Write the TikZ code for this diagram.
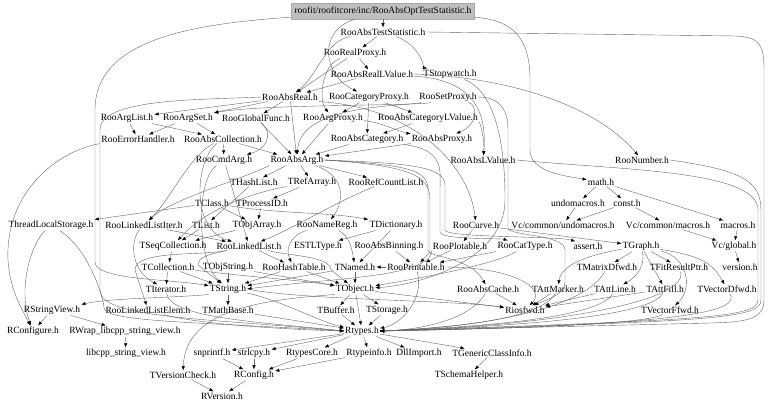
\documentclass[tikz,border=0pt]{standalone}
\usepackage{fontspec}
\setmainfont{Liberation Serif}
\usetikzlibrary{arrows.meta}
\definecolor{edgegray}{HTML}{666666}
\definecolor{rootgray}{HTML}{BFBFBF}
\definecolor{rootline}{HTML}{A8A8A8}

\begin{document}
\begin{tikzpicture}[x=1pt,y=-1pt,font=\fontsize{9.5}{11}\selectfont,>={Latex[length=4.2pt,width=3.3pt,color=black]},
file/.style={inner sep=1pt},
rootfile/.style={fill=rootgray,draw=rootline,inner xsep=3pt,inner ysep=1pt,minimum height=16pt},
edge/.style={->,draw=edgegray,line width=.4pt}]
 \useasboundingbox (0,0) rectangle (768,407);
 \node[rootfile] (optteststat) at (383,11) {roofit/roofitcore/inc/RooAbsOptTestStatistic.h};
 \node[file] (absteststat) at (383,32) {RooAbsTestStatistic.h};
 \node[file] (realproxy) at (355,53) {RooRealProxy.h};
 \node[file] (absreallv) at (372,74) {RooAbsRealLValue.h};
 \node[file] (stopwatch) at (450,74) {TStopwatch.h};
 \node[file] (absreal) at (290,97) {RooAbsReal.h};
 \node[file] (catproxy) at (369,97) {RooCategoryProxy.h};
 \node[file] (setproxy) at (448,97) {RooSetProxy.h};
 \node[file] (arglist) at (127,118) {RooArgList.h};
 \node[file] (argset) at (188,118) {RooArgSet.h};
 \node[file] (globalfunc) at (256,118) {RooGlobalFunc.h};
 \node[file] (argproxy) at (333,118) {RooArgProxy.h};
 \node[file] (abscatlv) at (428,118) {RooAbsCategoryLValue.h};
 \node[file] (errhandler) at (138,139) {RooErrorHandler.h};
 \node[file] (abscoll) at (223,139) {RooAbsCollection.h};
 \node[file] (abscat) at (367,139) {RooAbsCategory.h};
 \node[file] (absproxy) at (442,139) {RooAbsProxy.h};
 \node[file] (cmdarg) at (224,160) {RooCmdArg.h};
 \node[file] (absarg) at (297,160) {RooAbsArg.h};
 \node[file] (abslv) at (483,160) {RooAbsLValue.h};
 \node[file] (number) at (642,160) {RooNumber.h};
 \node[file] (hashlist) at (254,182) {THashList.h};
 \node[file] (refarray) at (312,182) {TRefArray.h};
 \node[file] (refcount) at (386,182) {RooRefCountList.h};
 \node[file] (mathh) at (601,182) {math.h};
 \node[file] (tclass) at (212,203) {TClass.h};
 \node[file] (processid) at (262,203) {TProcessID.h};
 \node[file] (undomacros) at (578,203) {undomacros.h};
 \node[file] (consth) at (627,203) {const.h};
 \node[file] (threadls) at (51,225) {ThreadLocalStorage.h};
 \node[file] (llistiter) at (144,225) {RooLinkedListIter.h};
 \node[file] (tlist) at (206,225) {TList.h};
 \node[file] (objarray) at (257,225) {TObjArray.h};
 \node[file] (namereg) at (327,225) {RooNameReg.h};
 \node[file] (dictionary) at (396,225) {TDictionary.h};
 \node[file] (curve) at (476,225) {RooCurve.h};
 \node[file] (vcundo) at (563,225) {Vc/common/undomacros.h};
 \node[file] (vcmacros) at (668,225) {Vc/common/macros.h};
 \node[file] (macrosh) at (738,225) {macros.h};
 \node[file] (seqcoll) at (173,246) {TSeqCollection.h};
 \node[file] (llist) at (249,246) {RooLinkedList.h};
 \node[file] (estl) at (318,246) {ESTLType.h};
 \node[file] (absbinning) at (389,246) {RooAbsBinning.h};
 \node[file] (plotable) at (460,246) {RooPlotable.h};
 \node[file] (cattype) at (525,246) {RooCatType.h};
 \node[file] (asserth) at (588,246) {assert.h};
 \node[file] (graph) at (641,246) {TGraph.h};
 \node[file] (vcglobal) at (734,246) {Vc/global.h};
 \node[file] (collection) at (168,267) {TCollection.h};
 \node[file] (objstring) at (228,267) {TObjString.h};
 \node[file] (hashtable) at (294,267) {RooHashTable.h};
 \node[file] (named) at (355,267) {TNamed.h};
 \node[file] (printable) at (416,267) {RooPrintable.h};
 \node[file] (matrixd) at (607,267) {TMatrixDfwd.h};
 \node[file] (fitresult) at (679,267) {TFitResultPtr.h};
 \node[file] (version) at (740,267) {version.h};
 \node[file] (iterator) at (166,289) {TIterator.h};
 \node[file] (tstring) at (228,289) {TString.h};
 \node[file] (tobject) at (355,289) {TObject.h};
 \node[file] (abscache) at (488,289) {RooAbsCache.h};
 \node[file] (attmarker) at (558,289) {TAttMarker.h};
 \node[file] (attline) at (615,289) {TAttLine.h};
 \node[file] (attfill) at (665,289) {TAttFill.h};
 \node[file] (vectord) at (727,289) {TVectorDfwd.h};
 \node[file] (stringview) at (52,310) {RStringView.h};
 \node[file] (llistelem) at (148,310) {RooLinkedListElem.h};
 \node[file] (mathbase) at (228,310) {TMathBase.h};
 \node[file] (buffer) at (336,310) {TBuffer.h};
 \node[file] (storage) at (387,310) {TStorage.h};
 \node[file] (riosfwd) at (525,310) {Riosfwd.h};
 \node[file] (vectorf) at (670,310) {TVectorFfwd.h};
 \node[file] (rconfigure) at (33,331) {RConfigure.h};
 \node[file] (wrapsv) at (125,331) {RWrap\_libcpp\_string\_view.h};
 \node[file] (rtypes) at (362,331) {Rtypes.h};
 \node[file] (libcppsv) at (126,353) {libcpp\_string\_view.h};
 \node[file] (snprintf) at (212,353) {snprintf.h};
 \node[file] (strlcpy) at (254,353) {strlcpy.h};
 \node[file] (rtypescore) at (312,353) {RtypesCore.h};
 \node[file] (rtypeinfo) at (369,353) {Rtypeinfo.h};
 \node[file] (dllimport) at (419,353) {DllImport.h};
 \node[file] (genclassinfo) at (492,353) {TGenericClassInfo.h};
 \node[file] (versioncheck) at (183,375) {TVersionCheck.h};
 \node[file] (rconfig) at (254,375) {RConfig.h};
 \node[file] (schemahelper) at (469,375) {TSchemaHelper.h};
 \node[file] (rversion) at (222,396) {RVersion.h};
 \draw[edge] (optteststat) -- (absteststat);
 \draw[edge] (optteststat) .. controls (318,30) and (322,75) .. (catproxy);
 \draw[edge] (optteststat) .. controls (190,24) and (95,40) .. (95,110) -- (95,262) .. controls (95,280) and (170,279) .. (tstring);
 \draw[edge] (optteststat) .. controls (515,20) and (530,40) .. (530,80) -- (530,150) .. controls (530,172) and (565,176) .. (mathh);
 \draw[edge] (absteststat) -- (realproxy);
 \draw[edge] (absteststat) .. controls (420,45) and (425,68) .. (stopwatch);
 \draw[edge] (absteststat) .. controls (326,40) and (318,75) .. (absreal);
 \draw[edge] (absteststat.east) -- (735,36) .. controls (760,37) and (764,45) .. (764,70) -- (764,300) .. controls (764,320) and (745,322) .. (710,323) -- (rtypes.east);
 \draw[edge] (realproxy) -- (absreallv);
 \draw[edge] (realproxy) -- (absreal);
 \draw[edge] (realproxy) .. controls (322,65) and (318,100) .. (argproxy);
 \draw[edge] (absreallv) -- (absreal);
 \draw[edge] (absreallv.east) .. controls (520,78) and (600,110) .. (number);
 \draw[edge] (absreallv) .. controls (484,80) and (486,125) .. (abslv);
 \draw[edge] (stopwatch) .. controls (505,95) and (505,180) .. (505,200) .. controls (505,260) and (420,285) .. (tobject);
 \draw[edge] (absreal) -- (arglist);
 \draw[edge] (absreal) -- (argset);
 \draw[edge] (absreal) -- (globalfunc);
 \draw[edge] (absreal) -- (absarg);
 \draw[edge] (absreal.south east) .. controls (420,108) and (470,170) .. (curve);
 \draw[edge] (absreal.west) .. controls (200,100) and (100,98) .. (100,130) -- (100,290) .. controls (100,318) and (200,318) .. (rtypes.west);
 \draw[edge] (catproxy) -- (argproxy);
 \draw[edge] (catproxy) -- (abscatlv);
 \draw[edge] (catproxy) -- (abscat);
 \draw[edge] (setproxy) .. controls (478,105) and (478,125) .. (absproxy);
 \draw[edge] (setproxy) .. controls (420,106) and (260,104) .. (argset);
 \draw[edge] (setproxy) .. controls (400,107) and (300,104) .. (absarg);
 \draw[edge] (setproxy.east) .. controls (500,97) and (508,110) .. (508,130) -- (508,228) .. controls (508,236) and (565,234) .. (565,250) -- (565,282) .. controls (565,295) and (545,300) .. (riosfwd);
 \draw[edge] (arglist) -- (abscoll);
 \draw[edge] (arglist) -- (errhandler);
 \draw[edge] (argset) -- (abscoll);
 \draw[edge] (argset) -- (errhandler);
 \draw[edge] (globalfunc) .. controls (275,135) and (265,150) .. (cmdarg);
 \draw[edge] (globalfunc) -- (absarg);
 \draw[edge] (argproxy) .. controls (380,122) and (400,132) .. (absproxy);
 \draw[edge] (argproxy) -- (absarg);
 \draw[edge] (abscatlv) -- (abscat);
 \draw[edge] (abscatlv) .. controls (480,122) and (485,140) .. (abslv);
 \draw[edge] (errhandler.south west) .. controls (60,150) and (5,190) .. (8,260) .. controls (10,290) and (20,305) .. (rconfigure);
 \draw[edge] (abscoll) -- (cmdarg);
 \draw[edge] (abscoll) -- (absarg);
 \draw[edge] (abscoll) .. controls (190,155) and (170,200) .. (llistiter);
 \draw[edge] (abscoll) .. controls (195,160) and (190,230) .. (llist);
 \draw[edge] (abscat) -- (absarg);
 \draw[edge] (abscat.south east) .. controls (445,150) and (440,170) .. (440,190) -- (440,232) .. controls (440,240) and (500,238) .. (cattype);
 \draw[edge] (absproxy) -- (absarg);
 \draw[edge] (cmdarg) .. controls (196,180) and (196,260) .. (tstring);
 \draw[edge] (cmdarg) -- (llist);
 \draw[edge] (absarg) -- (hashlist);
 \draw[edge] (absarg) -- (refarray);
 \draw[edge] (absarg) -- (refcount);
 \draw[edge] (absarg) .. controls (345,175) and (345,200) .. (namereg);
 \draw[edge] (absarg.east) .. controls (400,163) and (445,165) .. (445,185) -- (445,230) .. controls (445,238) and (560,236) .. (asserth);
 \draw[edge] (absarg.east) .. controls (410,165) and (428,170) .. (428,190) -- (428,250) .. controls (428,258) and (470,256) .. (abscache);
 \draw[edge] (absarg.east) .. controls (410,166) and (430,175) .. (430,200) -- (430,252) -- (printable);
 \draw[edge] (absarg.south west) .. controls (240,180) and (170,200) .. (llistiter);
 \draw[edge] (abslv.east) .. controls (620,170) and (758,170) .. (758,210) -- (758,300) .. controls (758,318) and (700,320) .. (rtypes.east);
 \draw[edge] (number.east) .. controls (740,170) and (761,180) .. (761,210) -- (761,300) .. controls (761,320) and (700,321) .. (rtypes.east);
 \draw[edge] (hashlist) -- (tlist);
 \draw[edge] (refarray) .. controls (240,195) and (200,215) .. (seqcoll);
 \draw[edge] (refarray) -- (processid);
 \draw[edge] (refcount) .. controls (340,200) and (290,230) .. (llist);
 \draw[edge] (mathh) -- (undomacros);
 \draw[edge] (mathh) -- (consth);
 \draw[edge] (mathh) -- (macrosh);
 \draw[edge] (tclass) .. controls (280,214) and (330,212) .. (dictionary);
 \draw[edge] (tclass) -- (objarray);
 \draw[edge] (tclass) -- (threadls.north east);
 \draw[edge] (processid) -- (objarray);
 \draw[edge] (undomacros) -- (vcundo);
 \draw[edge] (consth) -- (vcundo);
 \draw[edge] (consth) -- (vcmacros);
 \draw[edge] (threadls) .. controls (30,245) and (18,290) .. (rconfigure);
 \draw[edge] (threadls) .. controls (90,250) and (104,300) .. (104,308) .. controls (104,322) and (200,322) .. (rtypes.west);
 \draw[edge] (llistiter) .. controls (130,240) and (130,270) .. (iterator);
 \draw[edge] (llistiter) -- (llist);
 \draw[edge] (tlist) -- (seqcoll);
 \draw[edge] (objarray) -- (seqcoll);
 \draw[edge] (namereg) .. controls (350,236) and (352,250) .. (named);
 \draw[edge] (namereg) .. controls (290,235) and (285,250) .. (hashtable);
 \draw[edge] (dictionary) -- (named);
 \draw[edge] (dictionary) -- (estl);
 \draw[edge] (curve) -- (graph);
 \draw[edge] (curve) -- (plotable);
 \draw[edge] (vcmacros) -- (vcglobal);
 \draw[edge] (macrosh) -- (vcglobal);
 \draw[edge] (seqcoll) -- (collection);
 \draw[edge] (llist) .. controls (290,256) and (330,256) .. (331,270) -- (tobject);
 \draw[edge] (llist) .. controls (200,256) and (135,250) .. (135,270) -- (llistelem);
 \draw[edge] (llist) .. controls (205,255) and (198,258) .. (198,265) -- (tstring);
 \draw[edge] (llist) -- (hashtable);
 \draw[edge] (absbinning) -- (printable);
 \draw[edge] (plotable) -- (printable);
 \draw[edge] (plotable.south west) .. controls (430,278) and (330,278) .. (tstring.east);
 \draw[edge] (cattype) .. controls (500,262) and (440,275) .. (tobject);
 \draw[edge] (cattype) -- (printable);
 \draw[edge] (graph) -- (matrixd);
 \draw[edge] (graph) -- (fitresult);
 \draw[edge] (graph) .. controls (570,258) and (560,272) .. (attmarker);
 \draw[edge] (graph) .. controls (645,262) and (640,275) .. (attline);
 \draw[edge] (graph) -- (attfill);
 \draw[edge] (graph) .. controls (700,256) and (712,262) .. (vectord);
 \draw[edge] (graph) .. controls (690,258) and (692,290) .. (vectorf);
 \draw[edge] (vcglobal) -- (version);
 \draw[edge] (collection) .. controls (260,278) and (300,280) .. (tobject);
 \draw[edge] (collection) -- (iterator);
 \draw[edge] (collection) -- (tstring);
 \draw[edge] (objstring) -- (tobject);
 \draw[edge] (objstring) -- (tstring);
 \draw[edge] (hashtable) -- (tobject);
 \draw[edge] (hashtable) -- (tstring);
 \draw[edge] (named) -- (tobject);
 \draw[edge] (named) -- (tstring);
 \draw[edge] (printable) -- (named);
 \draw[edge] (printable.east) .. controls (520,268) and (545,290) .. (riosfwd);
 \draw[edge] (printable) .. controls (425,300) and (400,325) .. (rtypes);
 \draw[edge] (matrixd) .. controls (590,300) and (520,325) .. (rtypes.east);
 \draw[edge] (fitresult) .. controls (690,300) and (560,326) .. (rtypes.east);
 \draw[edge] (iterator) .. controls (170,318) and (260,322) .. (rtypes.west);
 \draw[edge] (tstring) -- (mathbase);
 \draw[edge] (tstring.south west) .. controls (170,298) and (110,298) .. (stringview.north east);
 \draw[edge] (tstring.east) .. controls (300,300) and (450,300) .. (riosfwd);
 \draw[edge] (tstring) .. controls (280,300) and (320,322) .. (rtypes);
 \draw[edge] (tobject) -- (buffer);
 \draw[edge] (tobject) -- (storage);
 \draw[edge] (tobject) -- (rtypes);
 \draw[edge] (tobject) -- (riosfwd);
 \draw[edge] (tobject.south west) .. controls (260,300) and (185,310) .. (versioncheck);
 \draw[edge] (abscache) -- (riosfwd);
 \draw[edge] (abscache) .. controls (470,320) and (420,330) .. (rtypes.east);
 \draw[edge] (attmarker) -- (riosfwd);
 \draw[edge] (attmarker) .. controls (540,320) and (450,328) .. (rtypes.east);
 \draw[edge] (attline) -- (riosfwd);
 \draw[edge] (attline) .. controls (600,318) and (480,327) .. (rtypes.east);
 \draw[edge] (attfill) -- (riosfwd);
 \draw[edge] (attfill) .. controls (650,318) and (500,327) .. (rtypes.east);
 \draw[edge] (vectord) .. controls (740,310) and (700,325) .. (rtypes.east);
 \draw[edge] (vectorf) .. controls (650,322) and (560,328) .. (rtypes.east);
 \draw[edge] (stringview) -- (rconfigure);
 \draw[edge] (stringview) -- (wrapsv);
 \draw[edge] (llistelem) .. controls (200,325) and (300,330) .. (rtypes.west);
 \draw[edge] (mathbase) -- (rtypes);
 \draw[edge] (buffer) -- (rtypes);
 \draw[edge] (storage) -- (rtypes);
 \draw[edge] (wrapsv) -- (libcppsv);
 \draw[edge] (rtypes) -- (snprintf);
 \draw[edge] (rtypes) -- (strlcpy);
 \draw[edge] (rtypes) -- (rtypescore);
 \draw[edge] (rtypes) -- (rtypeinfo);
 \draw[edge] (rtypes) -- (dllimport);
 \draw[edge] (rtypes) -- (genclassinfo);
 \draw[edge] (snprintf) -- (rconfig);
 \draw[edge] (strlcpy) -- (rconfig);
 \draw[edge] (rtypescore) -- (rconfig);
 \draw[edge] (rtypeinfo) -- (rconfig);
 \draw[edge] (genclassinfo) -- (schemahelper);
 \draw[edge] (versioncheck) -- (rversion);
 \draw[edge] (rconfig) -- (rversion);
\end{tikzpicture}
\end{document}
